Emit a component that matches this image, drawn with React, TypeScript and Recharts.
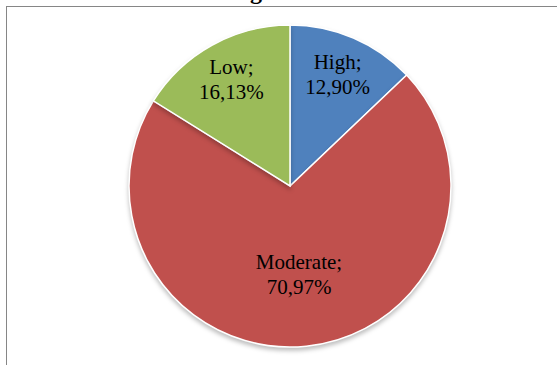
import React from "react";
import { PieChart, Pie, Cell } from "recharts";

const categories = ["High", "Moderate", "Low"];
const values = [12.9, 70.97, 16.13];
const colors = ["#4F81BD", "#C0504D", "#9BBB59"];
const titleText = "g";

const data = categories.map((name, i) => ({ name, value: values[i] }));

const FONT = "'Liberation Serif', 'Times New Roman', serif";
const RAD = Math.PI / 180;

const renderLabel = (props: any) => {
  const { cx, cy, midAngle, outerRadius, index } = props;
  const v = values[index];
  const frac = v > 50 ? 0.553 : 0.75;
  const r = outerRadius * frac;
  const x = cx + r * Math.cos(-midAngle * RAD);
  const y = cy + r * Math.sin(-midAngle * RAD);
  const pct = v.toFixed(2).replace(".", ",") + "%";
  return (
    <text
      x={x}
      y={y}
      textAnchor="middle"
      fill="#000"
      style={{ fontFamily: FONT, fontSize: 21 }}
    >
      <tspan x={x} y={y - 6}>{categories[index] + ";"}</tspan>
      <tspan x={x} y={y + 19}>{pct}</tspan>
    </text>
  );
};

export default function App() {
  return (
    <div
      style={{
        position: "absolute",
        left: 0,
        top: 0,
        width: 557,
        height: 365,
        overflow: "hidden",
        background: "#fff",
      }}
    >
      <div
        style={{
          position: "absolute",
          left: 6,
          top: 6,
          width: 700,
          height: 500,
          border: "1.5px solid #868686",
          boxSizing: "border-box",
        }}
      />
      <div
        style={{
          position: "absolute",
          left: 250,
          top: -21,
          fontFamily: FONT,
          fontWeight: "bold",
          fontSize: 24,
          lineHeight: "24px",
        }}
      >
        {titleText}
      </div>
      <style>{`.recharts-pie-sector path { filter: drop-shadow(0px 3px 2px rgba(0,0,0,0.25)); }`}</style>
      <div style={{ position: "absolute", left: 0, top: 0 }}>
        <PieChart
          width={557}
          height={365}
          margin={{ top: 0, right: 0, bottom: 0, left: 0 }}
        >
          <Pie
            data={data}
            dataKey="value"
            nameKey="name"
            cx={290}
            cy={186}
            outerRadius={161}
            startAngle={90}
            endAngle={-270}
            stroke="#ffffff"
            strokeWidth={1.5}
            label={renderLabel}
            labelLine={false}
            isAnimationActive={false}
          >
            {data.map((d, i) => (
              <Cell key={d.name} fill={colors[i]} />
            ))}
          </Pie>
        </PieChart>
      </div>
    </div>
  );
}
